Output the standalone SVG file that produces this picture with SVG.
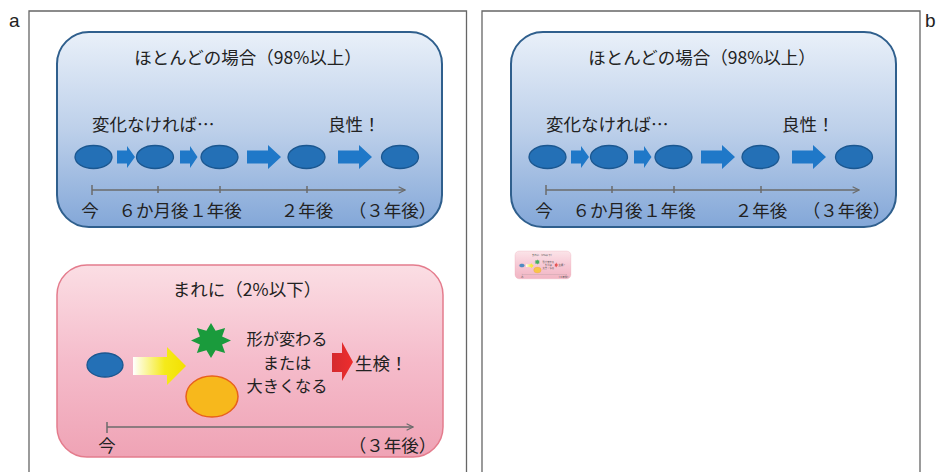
<svg xmlns="http://www.w3.org/2000/svg" xmlns:xlink="http://www.w3.org/1999/xlink" width="936" height="472" viewBox="0 0 936 472">
<defs>
<linearGradient id="gBlue" x1="0" y1="0" x2="0" y2="1">
<stop offset="0" stop-color="#e9f0f9"/>
<stop offset="0.5" stop-color="#bdd0ea"/>
<stop offset="1" stop-color="#83a7d8"/>
</linearGradient>
<linearGradient id="gPink" x1="0" y1="0" x2="0" y2="1">
<stop offset="0" stop-color="#fbdee4"/>
<stop offset="0.5" stop-color="#f5bccb"/>
<stop offset="1" stop-color="#efa3b5"/>
</linearGradient>
<linearGradient id="gYellow" x1="0" y1="0" x2="1" y2="0">
<stop offset="0" stop-color="#ffffff"/>
<stop offset="0.6" stop-color="#f5ea1a"/>
<stop offset="1" stop-color="#f3e000"/>
</linearGradient>
<linearGradient id="gRed" x1="0" y1="0" x2="1" y2="0">
<stop offset="0" stop-color="#d42a2e"/>
<stop offset="1" stop-color="#ee2d2d"/>
</linearGradient>
<marker id="ah" viewBox="0 0 10 10" refX="9" refY="5" markerWidth="8" markerHeight="8" markerUnits="userSpaceOnUse" orient="auto">
<path d="M1,1 L9,5 L1,9" fill="none" stroke="#6b6b6b" stroke-width="1.4"/>
</marker>
</defs>
<style>
.t{font-family:"Noto Sans CJK JP","Noto Sans",sans-serif;font-size:17.5px;fill:#222}
.ts{font-family:"Noto Sans CJK JP","Noto Sans",sans-serif;font-size:16.2px;fill:#222}
.lab{font-family:"Liberation Sans",Arial,sans-serif;font-size:19px;fill:#222}
.frame{fill:none;stroke:#666;stroke-width:1.3}
.bbox{fill:url(#gBlue);stroke:#2f5f8d;stroke-width:2}
.pbox{fill:url(#gPink);stroke:#e47c8d;stroke-width:1.5}
.cell{fill:#2470b6;stroke:#1b5790;stroke-width:1.3}
.barr{fill:#1f78c8}
.axis{fill:none;stroke:#6b6b6b;stroke-width:1.5}
.tick{stroke:#6b6b6b;stroke-width:1.5}
</style>
<rect width="936" height="472" fill="#ffffff"/>

<g id="frames">
<path class="frame" d="M29,473 V11 H466.5 V473"/>
<path class="frame" d="M482,473 V11 H920 V473"/>
<text class="lab" x="9" y="27">a</text>
<text class="lab" x="925" y="27">b</text>
</g>

<g id="commonCaseA">
<rect class="bbox" x="57" y="32" width="385" height="195" rx="32" ry="32"/>
<text class="t" x="248" y="64" text-anchor="middle">ほとんどの場合（98%以上）</text>
<text class="t" x="92" y="131">変化なければ…</text>
<text class="t" x="328" y="131">良性！</text>
<g id="cellsA">
<ellipse class="cell" cx="93.5" cy="157" rx="18.5" ry="11.5"/>
<ellipse class="cell" cx="155" cy="157" rx="18.5" ry="11.5"/>
<ellipse class="cell" cx="219.5" cy="157" rx="18.5" ry="11.5"/>
<ellipse class="cell" cx="306.5" cy="157" rx="18.5" ry="11.5"/>
<ellipse class="cell" cx="400" cy="157" rx="18.5" ry="11.5"/>
</g>
<g id="arrowsA">
<path class="barr" d="M117,150.5 H127 V146 L135,157 L127,168 V163.5 H117 Z"/>
<path class="barr" d="M180,150.5 H190 V146 L197.5,157 L190,168 V163.5 H180 Z"/>
<path class="barr" d="M247,150.5 H268 V145 L281,157 L268,169 V163.5 H247 Z"/>
<path class="barr" d="M338,150.5 H359 V145 L372,157 L359,169 V163.5 H338 Z"/>
</g>
<g id="axisA">
<line class="axis" x1="92" y1="190" x2="405" y2="190" marker-end="url(#ah)"/>
<line class="tick" x1="92" y1="185" x2="92" y2="195"/>
<line class="tick" x1="158" y1="186" x2="158" y2="193"/>
<line class="tick" x1="220" y1="186" x2="220" y2="193"/>
<line class="tick" x1="307" y1="186" x2="307" y2="193"/>
</g>
<text class="t" x="90" y="217" text-anchor="middle">今</text>
<text class="t" x="153.5" y="217" text-anchor="middle">６か月後</text>
<text class="t" x="215.5" y="217" text-anchor="middle">１年後</text>
<text class="t" x="307" y="217" text-anchor="middle">２年後</text>
<text class="t" x="392.5" y="217" text-anchor="middle">（３年後）</text>
</g>

<g id="rareCaseA">
<rect class="pbox" x="57" y="265" width="386" height="192" rx="30" ry="30"/>
<text class="t" x="247" y="296" text-anchor="middle">まれに（2%以下）</text>
<ellipse class="cell" cx="105" cy="365" rx="18" ry="12"/>
<path d="M133,357 H167 V347 L186,366 L167,385 V375 H133 Z" fill="url(#gYellow)"/>
<polygon transform="translate(211,340.5) scale(1,0.88)" fill="#1a9b3c" points="0,-20 4.59,-11.09 14.14,-14.14 11.09,-4.59 20,0 11.09,4.59 14.14,14.14 4.59,11.09 0,20 -4.59,11.09 -14.14,14.14 -11.09,4.59 -20,0 -11.09,-4.59 -14.14,-14.14 -4.59,-11.09"/>
<ellipse cx="212" cy="396.5" rx="26" ry="20.5" fill="#f7b81c" stroke="#e8611c" stroke-width="1.5"/>
<text class="ts" x="287" y="345" text-anchor="middle">形が変わる</text>
<text class="ts" x="287" y="368.5" text-anchor="middle">または</text>
<text class="ts" x="287" y="392" text-anchor="middle">大きくなる</text>
<path d="M332,353 H342 V342 L353,362 L342,381 V372 H332 Z" fill="url(#gRed)"/>
<text class="t" x="355" y="370">生検！</text>
<line class="axis" x1="107" y1="427" x2="413" y2="427" marker-end="url(#ah)"/>
<line class="tick" x1="107" y1="422" x2="107" y2="433"/>
<text class="t" x="107" y="452" text-anchor="middle">今</text>
<text class="t" x="392.5" y="452" text-anchor="middle">（３年後）</text>
</g>

<g id="commonCaseB" transform="translate(454,0)">
<rect class="bbox" x="57" y="32" width="385" height="195" rx="32" ry="32"/>
<text class="t" x="248" y="64" text-anchor="middle">ほとんどの場合（98%以上）</text>
<text class="t" x="92" y="131">変化なければ…</text>
<text class="t" x="328" y="131">良性！</text>
<ellipse class="cell" cx="93.5" cy="157" rx="18.5" ry="11.5"/>
<ellipse class="cell" cx="155" cy="157" rx="18.5" ry="11.5"/>
<ellipse class="cell" cx="219.5" cy="157" rx="18.5" ry="11.5"/>
<ellipse class="cell" cx="306.5" cy="157" rx="18.5" ry="11.5"/>
<ellipse class="cell" cx="400" cy="157" rx="18.5" ry="11.5"/>
<path class="barr" d="M117,150.5 H127 V146 L135,157 L127,168 V163.5 H117 Z"/>
<path class="barr" d="M180,150.5 H190 V146 L197.5,157 L190,168 V163.5 H180 Z"/>
<path class="barr" d="M247,150.5 H268 V145 L281,157 L268,169 V163.5 H247 Z"/>
<path class="barr" d="M338,150.5 H359 V145 L372,157 L359,169 V163.5 H338 Z"/>
<line class="axis" x1="92" y1="190" x2="405" y2="190" marker-end="url(#ah)"/>
<line class="tick" x1="92" y1="185" x2="92" y2="195"/>
<line class="tick" x1="158" y1="186" x2="158" y2="193"/>
<line class="tick" x1="220" y1="186" x2="220" y2="193"/>
<line class="tick" x1="307" y1="186" x2="307" y2="193"/>
<text class="t" x="90" y="217" text-anchor="middle">今</text>
<text class="t" x="153.5" y="217" text-anchor="middle">６か月後</text>
<text class="t" x="215.5" y="217" text-anchor="middle">１年後</text>
<text class="t" x="307" y="217" text-anchor="middle">２年後</text>
<text class="t" x="392.5" y="217" text-anchor="middle">（３年後）</text>
</g>

<g id="rareThumbB" opacity="0.8">
<use xlink:href="#rareCaseA" href="#rareCaseA" transform="translate(506.7,212.6) scale(0.145)"/>
</g>
</svg>
